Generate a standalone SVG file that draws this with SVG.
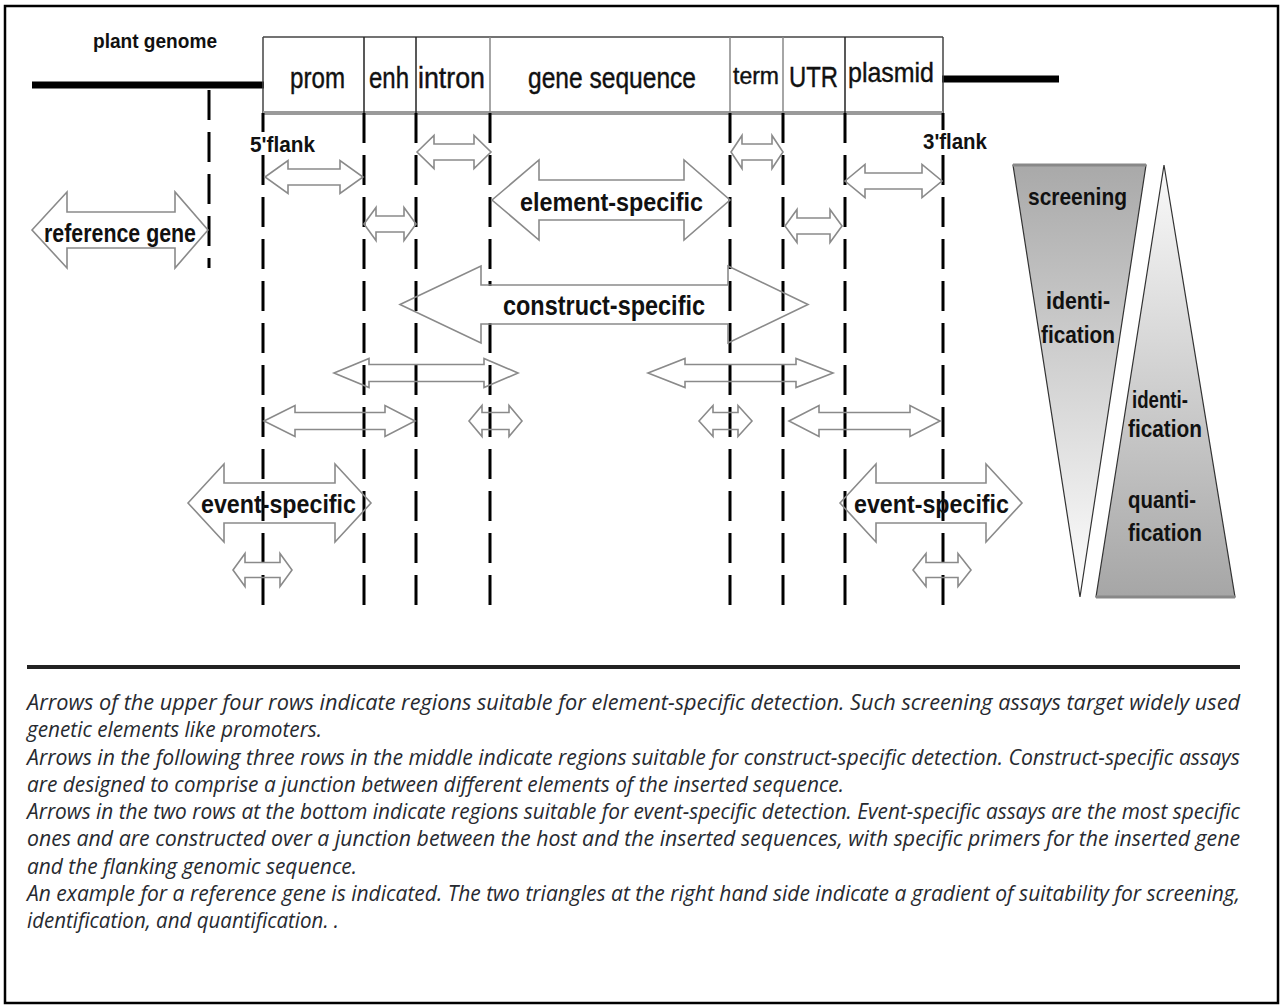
<svg xmlns="http://www.w3.org/2000/svg" width="1282" height="1006" viewBox="0 0 1282 1006">
<style>
.lbl{font-family:"Liberation Sans",Arial,sans-serif;fill:#111}
.b{font-weight:bold}
.bx{stroke:#111;stroke-width:0.4}
.cap{font-family:"Open Sans","Noto Sans",sans-serif;font-style:italic;font-size:21px;fill:#272a30}
.dash{stroke:#000;stroke-width:3;stroke-dasharray:30 12;fill:none}
.arr{fill:none;stroke:#8a8a8a;stroke-width:1.6;stroke-linejoin:miter}
.div{stroke:#222;stroke-width:1.5}
.divg{stroke:#888;stroke-width:1.5}
</style>
<defs>
<linearGradient id="gDown" x1="0" y1="0" x2="0" y2="1">
<stop offset="0" stop-color="#a9a9a9"/><stop offset="1" stop-color="#ffffff"/>
</linearGradient>
<linearGradient id="gUp" x1="0" y1="0" x2="0" y2="1">
<stop offset="0" stop-color="#fafafa"/><stop offset="1" stop-color="#a6a6a6"/>
</linearGradient>
</defs>
<rect x="0" y="0" width="1282" height="1006" fill="#fff"/>
<rect id="frame" x="5" y="6" width="1273" height="997" fill="none" stroke="#000" stroke-width="2.5"/>

<g id="genome">
<line x1="32" y1="85" x2="264" y2="85" stroke="#000" stroke-width="7"/>
<line x1="942" y1="79" x2="1059" y2="79" stroke="#000" stroke-width="7"/>
<text class="lbl b" x="93" y="48" font-size="21" textLength="124" lengthAdjust="spacingAndGlyphs">plant genome</text>
</g>

<g id="construct-box">
<line x1="263" y1="37" x2="943" y2="37" stroke="#444" stroke-width="1.5"/>
<line x1="263" y1="37" x2="263" y2="113" stroke="#444" stroke-width="1.5"/>
<line x1="943" y1="37" x2="943" y2="113" stroke="#444" stroke-width="1.5"/>
<line x1="263" y1="113" x2="943" y2="113" stroke="#9a9a9a" stroke-width="4"/>
<line class="div" x1="364" y1="37" x2="364" y2="113"/>
<line class="div" x1="416" y1="37" x2="416" y2="113"/>
<line class="divg" x1="490" y1="37" x2="490" y2="113"/>
<line class="divg" x1="730" y1="37" x2="730" y2="113"/>
<line class="divg" x1="783" y1="37" x2="783" y2="113"/>
<line class="div" x1="845" y1="37" x2="845" y2="113"/>
<text class="lbl bx" x="290" y="88" font-size="29" textLength="55" lengthAdjust="spacingAndGlyphs">prom</text>
<text class="lbl bx" x="369" y="88" font-size="29" textLength="40" lengthAdjust="spacingAndGlyphs">enh</text>
<text class="lbl bx" x="418" y="88" font-size="29" textLength="67" lengthAdjust="spacingAndGlyphs">intron</text>
<text class="lbl bx" x="528" y="88" font-size="29" textLength="168" lengthAdjust="spacingAndGlyphs">gene sequence</text>
<text class="lbl bx" x="733" y="84" font-size="24" textLength="46" lengthAdjust="spacingAndGlyphs">term</text>
<text class="lbl bx" x="789" y="87" font-size="30" textLength="49" lengthAdjust="spacingAndGlyphs">UTR</text>
<text class="lbl bx" x="848" y="82" font-size="28" textLength="86" lengthAdjust="spacingAndGlyphs">plasmid</text>
</g>

<g id="connectors">
<line class="dash" x1="209" y1="90" x2="209" y2="268"/>
<line class="dash" x1="263" y1="113" x2="263" y2="612"/>
<line class="dash" x1="364" y1="113" x2="364" y2="614"/>
<line class="dash" x1="416" y1="113" x2="416" y2="614"/>
<line class="dash" x1="490" y1="113" x2="490" y2="614"/>
<line class="dash" x1="730" y1="113" x2="730" y2="612"/>
<line class="dash" x1="783" y1="113" x2="783" y2="614"/>
<line class="dash" x1="845" y1="113" x2="845" y2="612"/>
<line class="dash" x1="943" y1="113" x2="943" y2="612"/>
</g>

<g id="flank-labels">
<rect x="248" y="132" width="68" height="22" fill="#fff"/>
<text class="lbl b" x="250" y="152" font-size="22" textLength="65" lengthAdjust="spacingAndGlyphs">5'flank</text>
<rect x="921" y="130" width="68" height="22" fill="#fff"/>
<text class="lbl b" x="923" y="149" font-size="22" textLength="64" lengthAdjust="spacingAndGlyphs">3'flank</text>
</g>

<g id="arrows">
<polygon id="a-intron" class="arr" points="417,152 434,135.5 434,144 474,144 474,135.5 491,152 474,168.5 474,160 434,160 434,168.5"/>
<polygon id="a-term" class="arr" points="731,152 742,135.5 742,144 772,144 772,135.5 783,152 772,168.5 772,160 742,160 742,168.5"/>
<polygon id="a-prom" class="arr" points="265,177 288,160.5 288,169 340,169 340,160.5 363,177 340,193.5 340,185 288,185 288,193.5"/>
<polygon id="a-plasmid" class="arr" points="845,181 865,164.5 865,173 922,173 922,164.5 942,181 922,197.5 922,189 865,189 865,197.5"/>
<polygon id="a-enh" class="arr" points="364,224 376,207.5 376,216 404,216 404,207.5 416,224 404,240.5 404,232 376,232 376,240.5"/>
<polygon id="a-utr" class="arr" points="785,226 797,209.5 797,218 830,218 830,209.5 842,226 830,242.5 830,234 797,234 797,242.5"/>
<polygon id="a-element" class="arr" points="492,200 539,160 539,180 684,180 684,160 730,200 684,240 684,220 539,220 539,240"/>
<polygon id="a-reference" class="arr" points="32,230 67,192 67,212 175,212 175,192 208,230 175,268 175,248 67,248 67,268"/>
<rect x="482" y="286" width="245" height="37" fill="#fff"/>
<polygon id="a-construct" class="arr" points="400,304.5 481,266 481,285 728,285 728,266 808,304.5 728,343 728,324 481,324 481,343"/>
<polygon id="a-rowA-left" class="arr" points="334,373 369,358.5 369,364.5 484,364.5 484,358.5 518,373 484,387.5 484,381.5 369,381.5 369,387.5"/>
<polygon id="a-rowA-right" class="arr" points="648,373 685,358.5 685,364.5 796,364.5 796,358.5 833,373 796,387.5 796,381.5 685,381.5 685,387.5"/>
<polygon id="a-rowB-left" class="arr" points="264,421 295,405.5 295,412.5 385,412.5 385,405.5 415,421 385,436.5 385,429.5 295,429.5 295,436.5"/>
<polygon id="a-rowB-490" class="arr" points="469,421 482,405.5 482,412.5 509,412.5 509,405.5 522,421 509,436.5 509,429.5 482,429.5 482,436.5"/>
<polygon id="a-rowB-730" class="arr" points="699,421 713,405.5 713,412.5 738,412.5 738,405.5 752,421 738,436.5 738,429.5 713,429.5 713,436.5"/>
<polygon id="a-rowB-right" class="arr" points="789,421 819,405.5 819,412.5 910,412.5 910,405.5 940,421 910,436.5 910,429.5 819,429.5 819,436.5"/>
<polygon id="a-event-left" class="arr" points="188,503 224,464 224,483 335,483 335,464 371,503 335,542 335,523 224,523 224,542"/>
<polygon id="a-event-right" class="arr" points="840,503 876,464 876,483 986,483 986,464 1022,503 986,542 986,523 876,523 876,542"/>
<polygon id="a-bot-left" class="arr" points="233,570 245,553.5 245,562.5 280,562.5 280,553.5 292,570 280,586.5 280,577.5 245,577.5 245,586.5"/>
<polygon id="a-bot-right" class="arr" points="913,570 926,553.5 926,562.5 958,562.5 958,553.5 971,570 958,586.5 958,577.5 926,577.5 926,586.5"/>
</g>

<g id="arrow-labels">
<text class="lbl b" x="44" y="242" font-size="25" textLength="152" lengthAdjust="spacingAndGlyphs">reference gene</text>
<text class="lbl b" x="520" y="211" font-size="26" textLength="183" lengthAdjust="spacingAndGlyphs">element-specific</text>
<text class="lbl b" x="503" y="315" font-size="27" textLength="202" lengthAdjust="spacingAndGlyphs">construct-specific</text>
<text class="lbl b" x="201" y="513" font-size="25" textLength="155" lengthAdjust="spacingAndGlyphs">event-specific</text>
<text class="lbl b" x="854" y="513" font-size="25" textLength="155" lengthAdjust="spacingAndGlyphs">event-specific</text>
</g>

<g id="triangle-screening">
<polygon points="1013,165 1146,165 1080,597" fill="url(#gDown)" stroke="#333" stroke-width="1.2"/>
<line x1="1013" y1="165" x2="1146" y2="165" stroke="#888" stroke-width="3"/>
<text class="lbl b" x="1028" y="205" font-size="24" textLength="99" lengthAdjust="spacingAndGlyphs">screening</text>
<text class="lbl b" x="1046" y="309" font-size="24" textLength="64" lengthAdjust="spacingAndGlyphs">identi-</text>
<text class="lbl b" x="1041" y="343" font-size="24" textLength="74" lengthAdjust="spacingAndGlyphs">fication</text>
</g>

<g id="triangle-quantification">
<polygon points="1164,165 1235,597 1096,597" fill="url(#gUp)" stroke="#333" stroke-width="1.2"/>
<line x1="1096" y1="597" x2="1235" y2="597" stroke="#888" stroke-width="3"/>
<text class="lbl b" x="1132" y="408" font-size="24" textLength="56" lengthAdjust="spacingAndGlyphs">identi-</text>
<text class="lbl b" x="1128" y="437" font-size="24" textLength="74" lengthAdjust="spacingAndGlyphs">fication</text>
<text class="lbl b" x="1128" y="508" font-size="24" textLength="68" lengthAdjust="spacingAndGlyphs">quanti-</text>
<text class="lbl b" x="1128" y="541" font-size="24" textLength="74" lengthAdjust="spacingAndGlyphs">fication</text>
</g>

<g id="caption">
<line x1="27" y1="667" x2="1240" y2="667" stroke="#222" stroke-width="4"/>
<text class="cap" x="27" y="710" textLength="1213" lengthAdjust="spacingAndGlyphs">Arrows of the upper four rows indicate regions suitable for element-specific detection. Such screening assays target widely used</text>
<text class="cap" x="27" y="737" textLength="295" lengthAdjust="spacingAndGlyphs">genetic elements like promoters.</text>
<text class="cap" x="27" y="765" textLength="1213" lengthAdjust="spacingAndGlyphs">Arrows in the following three rows in the middle indicate regions suitable for construct-specific detection. Construct-specific assays</text>
<text class="cap" x="27" y="792" textLength="817" lengthAdjust="spacingAndGlyphs">are designed to comprise a junction between different elements of the inserted sequence.</text>
<text class="cap" x="27" y="819" textLength="1213" lengthAdjust="spacingAndGlyphs">Arrows in the two rows at the bottom indicate regions suitable for event-specific detection. Event-specific assays are the most specific</text>
<text class="cap" x="27" y="846" textLength="1213" lengthAdjust="spacingAndGlyphs">ones and are constructed over a junction between the host and the inserted sequences, with specific primers for the inserted gene</text>
<text class="cap" x="27" y="874" textLength="330" lengthAdjust="spacingAndGlyphs">and the flanking genomic sequence.</text>
<text class="cap" x="27" y="901" textLength="1213" lengthAdjust="spacingAndGlyphs">An example for a reference gene is indicated. The two triangles at the right hand side indicate a gradient of suitability for screening,</text>
<text class="cap" x="27" y="928" textLength="312" lengthAdjust="spacingAndGlyphs">identification, and quantification. .</text>
</g>
</svg>
